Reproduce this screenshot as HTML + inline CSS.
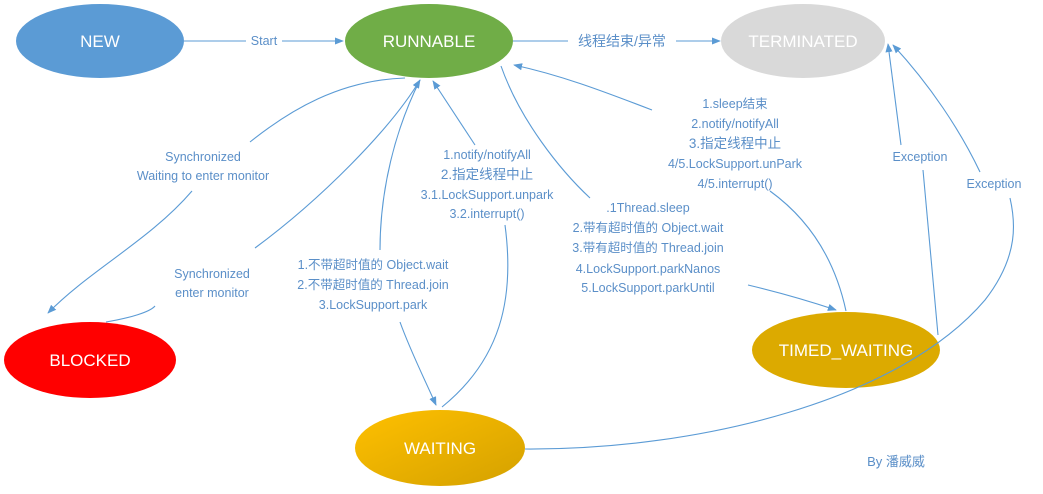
<!DOCTYPE html>
<html><head><meta charset="utf-8"><style>
html,body{margin:0;padding:0;background:#fff;width:1043px;height:494px;overflow:hidden}
svg text{font-family:"Liberation Sans","Noto Sans CJK SC",sans-serif}
.l{fill:#5b8fc8;font-size:12.5px;text-anchor:middle}
.n{fill:#fff;font-size:17px;text-anchor:middle}
path{fill:none;stroke:#5b9bd5;stroke-width:1.1}
</style></head><body>
<svg width="1043" height="494" viewBox="0 0 1043 494" xmlns="http://www.w3.org/2000/svg">
<defs>
<marker id="a" viewBox="0 0 10 10" refX="9" refY="5" markerWidth="9" markerHeight="9" orient="auto-start-reverse" markerUnits="userSpaceOnUse"><path d="M0,1 L10,5 L0,9 z" style="fill:#5b9bd5;stroke:none"/></marker>
<linearGradient id="gw" x1="0" y1="0" x2="1" y2="1"><stop offset="0" stop-color="#ffc000"/><stop offset="1" stop-color="#d4a100"/></linearGradient>
</defs>
<!-- nodes -->
<ellipse cx="100" cy="41" rx="84" ry="37" fill="#5b9bd5"/>
<text class="n" x="100" y="47">NEW</text>
<ellipse cx="429" cy="41" rx="84" ry="37" fill="#70ad47"/>
<text class="n" x="429" y="47">RUNNABLE</text>
<ellipse cx="803" cy="41" rx="82" ry="37" fill="#d9d9d9"/>
<text class="n" x="803" y="47">TERMINATED</text>
<ellipse cx="90" cy="360" rx="86" ry="38" fill="#ff0000"/>
<text class="n" x="90" y="366">BLOCKED</text>
<ellipse cx="440" cy="448" rx="85" ry="38" fill="url(#gw)"/>
<text class="n" x="440" y="454">WAITING</text>
<ellipse cx="846" cy="350" rx="94" ry="38" fill="#dcaa00"/>
<text class="n" x="846" y="356">TIMED_WAITING</text>

<!-- edges -->
<path d="M184,41 L246,41 M282,41 L343,41" marker-end="url(#a)"/>
<text class="l" x="264" y="45">Start</text>
<path d="M513,41 L568,41 M676,41 L720,41" marker-end="url(#a)"/>
<text class="l" x="622" y="46" style="font-size:14px">线程结束/异常</text>

<path d="M405,78 C340,80 290,110 250,142"/>
<path d="M192,191 C150,240 90,270 48,313" marker-end="url(#a)"/>
<text class="l" x="203" y="161">Synchronized</text>
<text class="l" x="203" y="180">Waiting to enter monitor</text>

<path d="M106,322 C130,318 150,312 155,306"/>
<path d="M255,248 C320,200 390,130 420,80" marker-end="url(#a)"/>
<text class="l" x="212" y="278">Synchronized</text>
<text class="l" x="212" y="297">enter monitor</text>

<path d="M420,80 C395,130 380,190 380,250"/>
<path d="M400,322 C410,350 425,380 436,405" marker-end="url(#a)"/>
<text class="l" x="373" y="269">1.不带超时值的 Object.wait</text>
<text class="l" x="373" y="289">2.不带超时值的 Thread.join</text>
<text class="l" x="373" y="309">3.LockSupport.park</text>

<path d="M442,407 C500,360 515,300 505,225"/>
<path d="M475,145 L433,81" marker-end="url(#a)"/>
<text class="l" x="487" y="159">1.notify/notifyAll</text>
<text class="l" x="487" y="179" style="font-size:13.5px">2.指定线程中止</text>
<text class="l" x="487" y="199">3.1.LockSupport.unpark</text>
<text class="l" x="487" y="218">3.2.interrupt()</text>

<path d="M501,66 C520,120 560,170 590,198"/>
<path d="M748,285 C790,295 815,303 836,310" marker-end="url(#a)"/>
<text class="l" x="648" y="212">.1Thread.sleep</text>
<text class="l" x="648" y="232">2.带有超时值的 Object.wait</text>
<text class="l" x="648" y="252">3.带有超时值的 Thread.join</text>
<text class="l" x="648" y="273">4.LockSupport.parkNanos</text>
<text class="l" x="648" y="292">5.LockSupport.parkUntil</text>

<path d="M846,311 C835,260 810,220 770,191"/>
<path d="M652,110 C600,90 560,75 514,65" marker-end="url(#a)"/>
<text class="l" x="735" y="108">1.sleep结束</text>
<text class="l" x="735" y="128">2.notify/notifyAll</text>
<text class="l" x="735" y="148" style="font-size:13.5px">3.指定线程中止</text>
<text class="l" x="735" y="168">4/5.LockSupport.unPark</text>
<text class="l" x="735" y="188">4/5.interrupt()</text>

<path d="M938,335 L923,170"/>
<path d="M901,145 L888,44" marker-end="url(#a)"/>
<text class="l" x="920" y="161">Exception</text>

<path d="M525,449 C700,450 900,400 985,300 C1020,255 1015,220 1010,198"/>
<path d="M980,172 C960,130 930,85 893,45" marker-end="url(#a)"/>
<text class="l" x="994" y="188">Exception</text>

<text class="l" x="896" y="466" style="font-size:13px">By 潘威威</text>
</svg>
</body></html>
